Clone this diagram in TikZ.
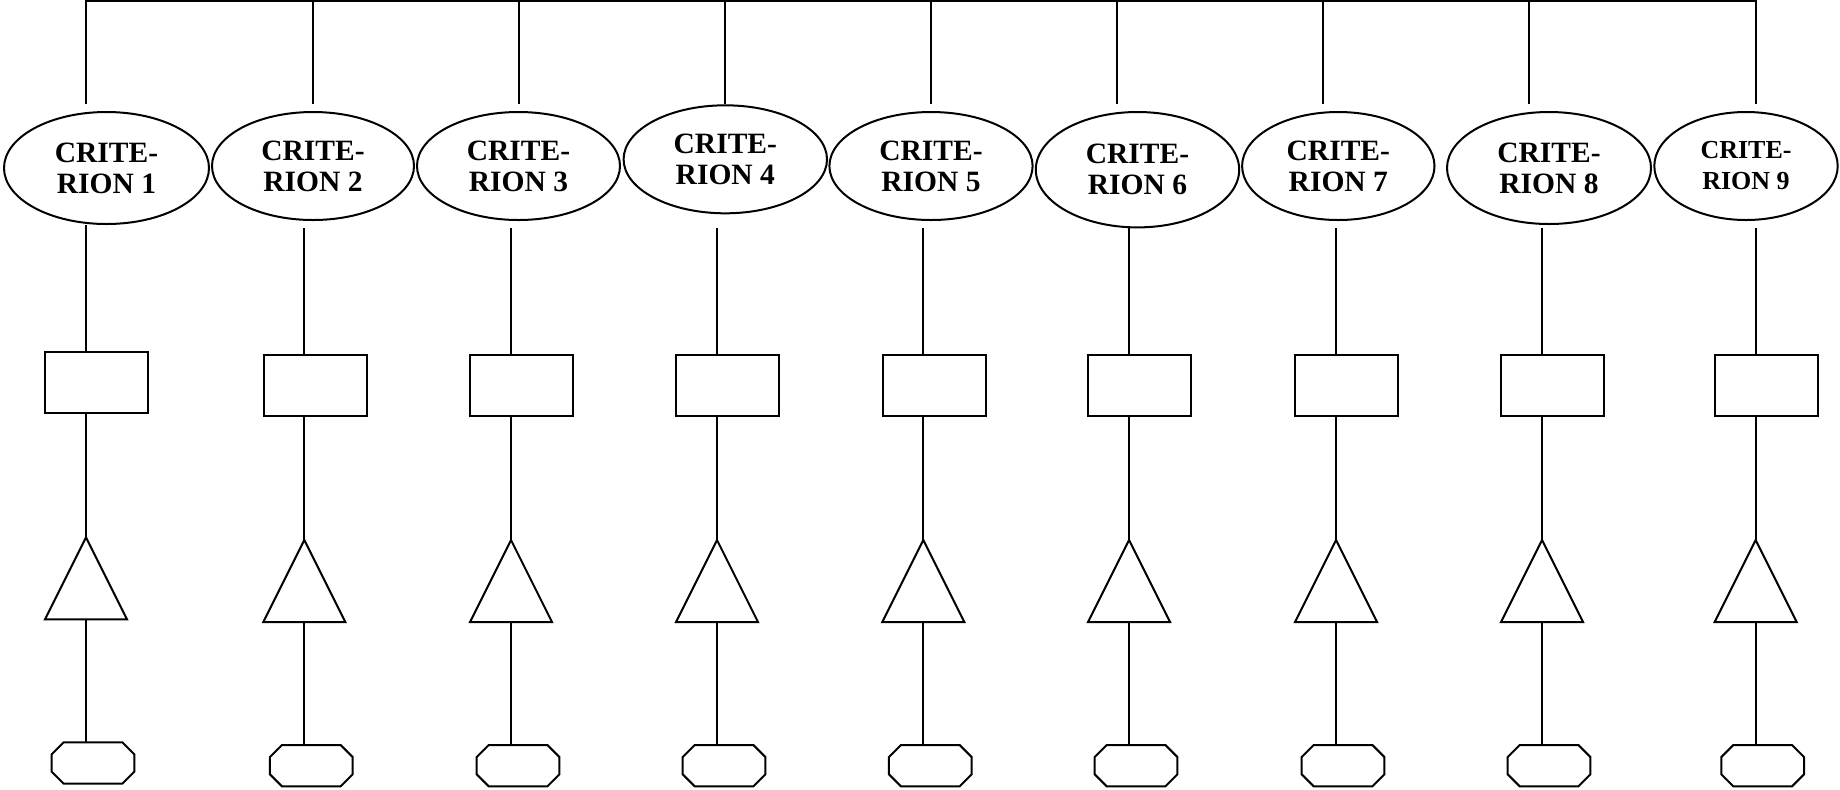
\documentclass[tikz,border=0pt]{standalone}
\usepackage{fontspec}
\setmainfont{Liberation Serif}
\usetikzlibrary{shapes.geometric}
\begin{document}
\begin{tikzpicture}[x=0.5pt,y=-0.5pt,
  wire/.style={line width=1pt},
  crit/.style={ellipse, draw, line width=1pt, inner sep=0pt, outer sep=0pt, align=center},
  boxshape/.style={rectangle, draw, line width=1pt, minimum width=51.5pt, minimum height=30.5pt, inner sep=0pt, outer sep=0pt},
  tri/.style={isosceles triangle, isosceles triangle stretches, shape border rotate=90, draw, line width=1pt,
    minimum width=41pt, minimum height=41pt, inner sep=0pt, outer sep=0pt},
  octo/.style={rectangle, minimum width=41.35pt, minimum height=20.65pt, inner sep=0pt, outer sep=0pt},
  octoline/.style={line width=1pt, line join=miter}
]
\useasboundingbox (0,0) rectangle (1840,789);

% one column per criterion: ellipse centre, half axes, bus drop x, stem x, vertical shift, font size
\foreach \i/\ex/\ey/\rx/\ry/\T/\L/\dy/\fs in {
  1/106.5/168/102.5/56/86/86/-2.7/14.75,
  2/313/166/101/54/312.5/304.3/0/14.75,
  3/518.5/166/101.5/54/519/511/0/14.75,
  4/725.3/159.3/101.7/54/725.3/717/0/14.75,
  5/931/166/101.6/54/931/923.3/0/14.75,
  6/1137.5/169.7/101.7/57.7/1116.5/1129/0/14.75,
  7/1338.3/166/96.2/54/1323/1336/0/14.75,
  8/1549/168/102/56/1529.3/1542/0/14.75,
  9/1746/166/91.7/54/1755.7/1755.7/0/13}
{
  \node[crit, minimum width=\rx*1pt, minimum height=\ry*1pt,
        font=\bfseries\fontsize{\fs}{15.5}\selectfont] (e\i) at (\ex,\ey) {CRITE-\\RION \i};
  \node[boxshape] (b\i) at (\L+10.7, 385.5+\dy) {};
  \node[tri, anchor=apex] (t\i) at (\L, 540+\dy) {};
  \node[octo, anchor=north] (o\i) at (\L+7, 745+\dy) {};
  % octagon outline with 6pt corner cuts
  \draw[octoline] ([xshift=6pt]o\i.north west) -- ([xshift=-6pt]o\i.north east)
    -- ([yshift=-6pt]o\i.north east) -- ([yshift=6pt]o\i.south east)
    -- ([xshift=-6pt]o\i.south east) -- ([xshift=6pt]o\i.south west)
    -- ([yshift=6pt]o\i.south west) -- ([yshift=-6pt]o\i.north west) -- cycle;
  \coordinate (bus\i) at (\T, 1);
  \coordinate (u\i) at (\T, 104);
  \coordinate (d\i) at (\L, 228+\dy);
  \draw[wire] (d\i) -- (d\i |- b\i.north);
  \draw[wire] (d\i |- b\i.south) -- (t\i.apex);
  \draw[wire] (t\i.south) -- (o\i.north -| d\i);
}

% common bus across the top
\draw[wire] (u1) -- (bus1) -- (bus9) -- (u9);
\foreach \i in {2,...,8} { \draw[wire] (bus\i) -- (u\i); }
\end{tikzpicture}
\end{document}
